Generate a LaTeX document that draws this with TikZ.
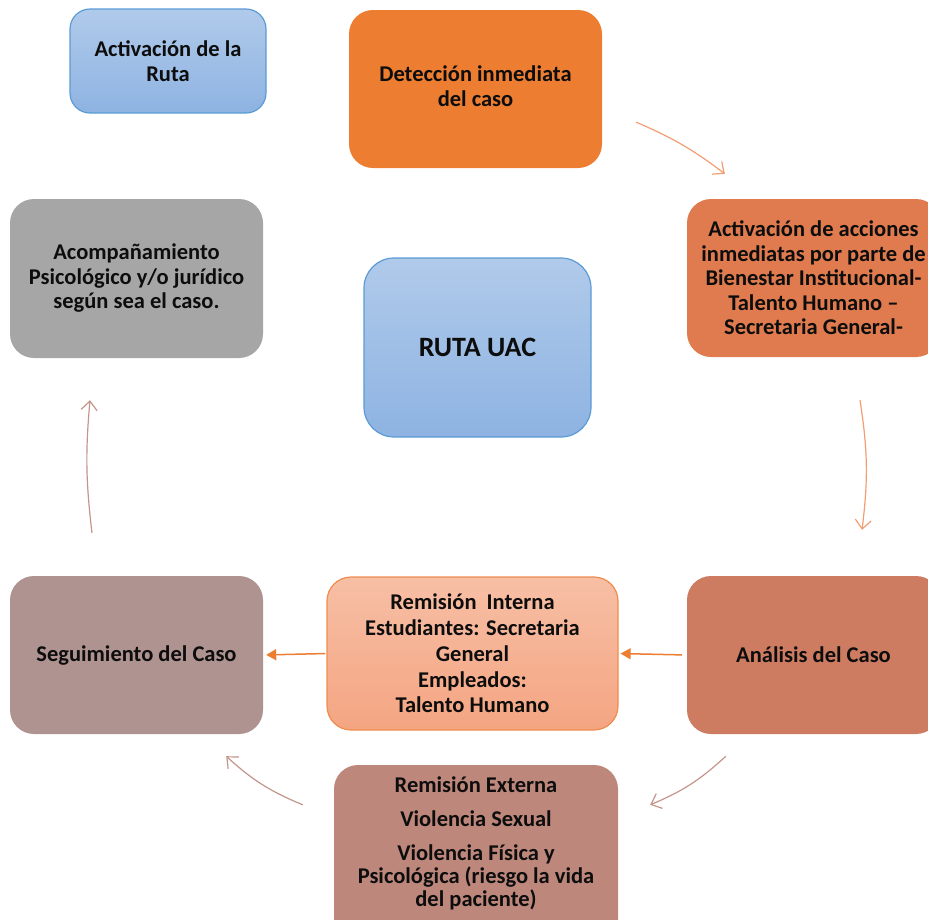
\documentclass[tikz,border=0pt]{standalone}
\usepackage{fontspec}
\setmainfont{Carlito}
\usetikzlibrary{arrows.meta,calc}
\definecolor{bluetop}{HTML}{B0CAEA}
\definecolor{bluebot}{HTML}{8EB3E2}
\definecolor{blueline}{HTML}{5B9BD5}
\definecolor{orangeA}{HTML}{ED7D31}
\definecolor{orangeB}{HTML}{DF7B4E}
\definecolor{grayA}{HTML}{A6A6A6}
\definecolor{mauve}{HTML}{AF9390}
\definecolor{salmtop}{HTML}{F7BFA5}
\definecolor{salmbot}{HTML}{F4A582}
\definecolor{salmline}{HTML}{F08C4E}
\definecolor{brickA}{HTML}{CD7C62}
\definecolor{brickB}{HTML}{BD877B}
\definecolor{arrO}{HTML}{F29E72}
\definecolor{arrB}{HTML}{C4958A}
\tikzset{
  box/.style={rectangle, rounded corners=24pt, align=center, inner sep=0pt,
    font=\bfseries\fontsize{22.5}{24.5}\selectfont, text=black!95},
  bluebox/.style={box, top color=bluetop, bottom color=bluebot, draw=blueline, line width=1.2pt},
  oarr/.style={draw=arrO, line width=1.2pt, -{Straight Barb[length=9pt,width=16pt]}},
  barr/.style={draw=arrB, line width=1.2pt, -{Straight Barb[length=9pt,width=16pt]}},
  farr/.style={draw=orangeA, line width=1.5pt, -{Triangle[length=10pt,width=11pt]}},
}
\begin{document}
\begin{tikzpicture}[x=1pt,y=-1pt]
\useasboundingbox (0,0) rectangle (928,919);
\clip (0,0) rectangle (928,919);
% boxes
\node[bluebox, rounded corners=20pt, minimum width=196pt, minimum height=104pt] (ruta) at (168,61) {Activación de la\\Ruta};
\node[box, fill=orangeA, minimum width=253pt, minimum height=158pt] (det) at (475.5,89) {};
\node[align=center, inner sep=0pt, font=\bfseries\fontsize{22.5}{24.5}\selectfont, text=black!95] (dett) at (475.5,86) {Detección inmediata\\del caso};
\node[box, fill=orangeB, minimum width=253pt, minimum height=158pt] (acc) at (813.5,278) {Activación de acciones\\inmediatas por parte de\\Bienestar Institucional-\\Talento Humano –\\Secretaria General-};
\node[bluebox, rounded corners=30pt, minimum width=227pt, minimum height=179pt, font=\bfseries\fontsize{28}{30}\selectfont] (uac) at (477.5,347.5) {RUTA UAC};
\node[box, fill=grayA, minimum width=253pt, minimum height=159pt] (acomp) at (136.5,278.5) {Acompañamiento\\Psicológico y/o jurídico\\según sea el caso.};
\node[box, fill=mauve, minimum width=253pt, minimum height=158pt] (seg) at (136.5,655) {Seguimiento del Caso};
\node[box, top color=salmtop, bottom color=salmbot, draw=salmline, line width=1.2pt, minimum width=291pt, minimum height=153pt, font=\bfseries\fontsize{22.5}{25.8}\selectfont] (rint) at (472.5,653.5) {Remisión\ \ Interna\\Estudiantes: Secretaria\\General\\Empleados:\\Talento Humano};
\node[box, fill=brickA, minimum width=253pt, minimum height=158pt] (anal) at (813.5,655) {Análisis del Caso};
\node[box, fill=brickB, minimum width=284pt, minimum height=180pt] (rext) at (476,855) {};
\node[anchor=north, align=center, inner sep=0pt, font=\bfseries\fontsize{22.5}{23}\selectfont, text=black!95] (rextt) at (476,776) {Remisión Externa\\[11pt]Violencia Sexual\\[11pt]Violencia Física y\\Psicológica (riesgo la vida\\del paciente)};
% connectors
\draw[oarr] ($(det.south east)+(34,-46)$) to[bend left=7] ($(acc.north west)+(38,-25)$);
\draw[oarr] ($(acc.south)+(46.5,43)$) to[bend left=8] ($(anal.north)+(48.5,-46)$);
\draw[farr, shorten <=5pt, shorten >=2pt] (anal.west) -- (rint.east);
\draw[farr, shorten <=1pt, shorten >=3pt] (rint.west) -- (seg.east);
\draw[barr] ($(anal.south west)+(39,22)$) to[bend left=10] ($(rext.north east)+(32,40)$);
\draw[barr] ($(rext.north west)+(-31,40)$) to[bend left=10] ($(seg.south east)+(-37,22)$);
\draw[barr] ($(seg.north)+(-44.5,-43)$) to[bend left=6] ($(acomp.south)+(-46.5,42)$);
\end{tikzpicture}
\end{document}
